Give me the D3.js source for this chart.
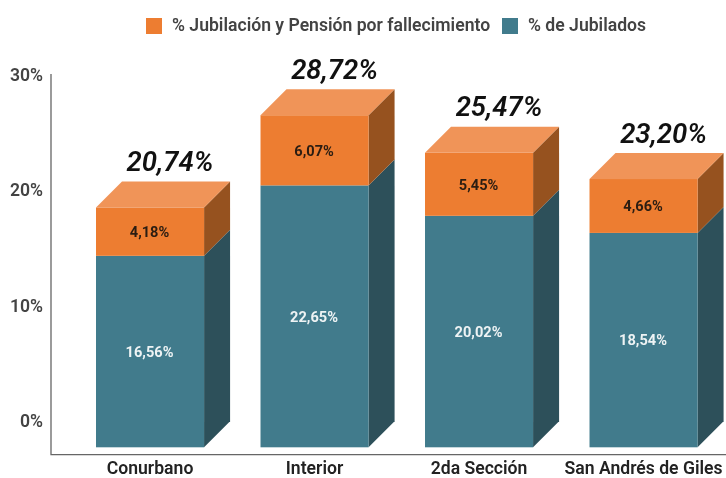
<!DOCTYPE html>
<html lang="es">
<head>
<meta charset="UTF-8">
<title>Jubilados y pensiones</title>
<script src="https://d3js.org/d3.v7.min.js"></script>
<style>
    html, body { margin: 0; padding: 0; background: #fff; overflow: hidden; }
    svg { display: block; font-family: Roboto, sans-serif; filter: blur(0.55px); }
    .legend-text { font-size: 17.6px; font-weight: 600; fill: #434343; }
    .y-axis text { font-family: Roboto, sans-serif; font-size: 17.6px; font-weight: 600; fill: #434343; }
    .x-axis text { font-family: Roboto, sans-serif; font-size: 17.6px; font-weight: 600; fill: #222; }
    .value { font-size: 14.6px; font-weight: 700; text-anchor: middle; }
    .total { font-size: 27.5px; font-weight: 600; font-style: italic; text-anchor: middle; fill: #111; }
</style>
</head>
<body>
<div id="chart"></div>
<script>
    const categories = ["Conurbano", "Interior", "2da Sección", "San Andrés de Giles"];
    const jubilados = [16.56, 22.65, 20.02, 18.54];
    const pensiones = [4.18, 6.07, 5.45, 4.66];
    const yTicks = [0, 10, 20, 30];

    const width = 726;
    const height = 478;
    const depth = 26; // offset of the fake 3d back face
    const axisX = 51;
    const axisY = 454.7;

    const fmt = v => v.toFixed(2).replace(".", ",") + "%";

    const svg = d3.select("#chart").append("svg")
        .attr("width", width)
        .attr("height", height);

    const x = d3.scaleBand()
        .domain(categories)
        .range([axisX, 742.6])
        .paddingInner(0.343)
        .paddingOuter(0.2736);

    const y = d3.scaleLinear()
        .domain([0, 30])
        .range([421.3, 74.4]);

    const rows = categories.map((c, i) => ({ cat: c, jub: jubilados[i], pen: pensiones[i] }));
    const series = d3.stack().keys(["jub", "pen"])(rows);

    const colors = {
        jub: { front: "#417b8c", side: "#2d505a" },
        pen: { front: "#ed7d31", side: "#96521f", top: "#f09458" }
    };

    const bars = svg.append("g");

    series.forEach(s => {
        const c = colors[s.key];
        const g = bars.append("g");

        // right side face
        g.selectAll("path.side").data(s).enter().append("path")
            .attr("class", "side")
            .attr("fill", c.side)
            .attr("d", d => {
                const r = x(d.data.cat) + x.bandwidth();
                const p = d3.path();
                p.moveTo(r, y(d[0]) + depth);
                p.lineTo(r + depth, y(d[0]));
                p.lineTo(r + depth, y(d[1]));
                p.lineTo(r, y(d[1]) + depth);
                p.closePath();
                return p;
            });

        // front face
        g.selectAll("rect").data(s).enter().append("rect")
            .attr("x", d => x(d.data.cat))
            .attr("y", d => y(d[1]) + depth)
            .attr("width", x.bandwidth())
            .attr("height", d => y(d[0]) - y(d[1]))
            .attr("fill", c.front);

        // top face only on the last stack
        if (c.top) {
            g.selectAll("path.top").data(s).enter().append("path")
                .attr("class", "top")
                .attr("fill", c.top)
                .attr("d", d => {
                    const l = x(d.data.cat);
                    const p = d3.path();
                    p.moveTo(l, y(d[1]) + depth);
                    p.lineTo(l + depth, y(d[1]));
                    p.lineTo(l + x.bandwidth() + depth, y(d[1]));
                    p.lineTo(l + x.bandwidth(), y(d[1]) + depth);
                    p.closePath();
                    return p;
                });
        }

        g.selectAll("text").data(s).enter().append("text")
            .attr("class", "value")
            .attr("x", d => x(d.data.cat) + x.bandwidth() / 2 - 0.5)
            .attr("y", d => (y(d[0]) + y(d[1])) / 2 + depth)
            .attr("dy", "0.36em")
            .attr("fill", s.key === "jub" ? "#eef3f4" : "#2b1d12")
            .text(d => fmt(d[1] - d[0]));
    });

    // totals above each bar
    svg.append("g").selectAll("text").data(rows).enter().append("text")
        .attr("class", "total")
        .attr("x", d => x(d.cat) + x.bandwidth() / 2 + 20)
        .attr("y", d => y(d.jub + d.pen) - 10.5)
        .text(d => fmt(d.jub + d.pen));

    // axes
    const yAxis = svg.append("g")
        .attr("class", "y-axis")
        .attr("transform", `translate(${axisX},0)`)
        .call(d3.axisLeft(y).tickValues(yTicks).tickFormat(d => d + "%").tickSize(0).tickPadding(8));
    yAxis.select(".domain").remove();

    const xAxis = svg.append("g")
        .attr("class", "x-axis")
        .attr("transform", `translate(0,${axisY})`)
        .call(d3.axisBottom(x).tickSize(0).tickPadding(7));
    xAxis.select(".domain").remove();

    svg.append("path")
        .attr("d", `M${axisX},74V${axisY}H${width}`)
        .attr("fill", "none")
        .attr("stroke", "#666")
        .attr("stroke-width", 1.3);

    // legend
    const legendItems = [
        { label: "% Jubilación y Pensión por fallecimiento", color: colors.pen.front, sx: 146 },
        { label: "% de Jubilados", color: colors.jub.front, sx: 502 }
    ];
    const legend = svg.append("g").selectAll("g").data(legendItems).enter().append("g");
    legend.append("rect")
        .attr("x", d => d.sx)
        .attr("y", 18)
        .attr("width", 16)
        .attr("height", 16)
        .attr("fill", d => d.color);
    legend.append("text")
        .attr("class", "legend-text")
        .attr("x", d => d.sx + 26)
        .attr("y", 31)
        .text(d => d.label);
</script>
</body>
</html>
